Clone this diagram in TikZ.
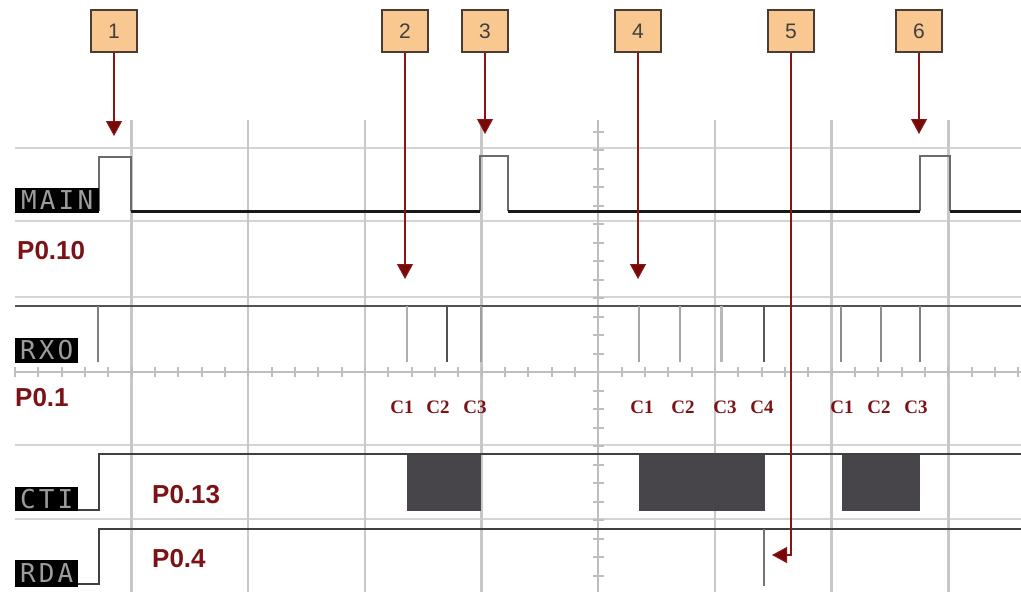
\documentclass[tikz,border=0pt]{standalone}
\usepackage{fontspec}
\setmainfont{Liberation Sans}
\newfontfamily\capfont{Liberation Serif}
\newfontfamily\lcdfont[LetterSpace=12]{DejaVu Sans Mono}
\usetikzlibrary{arrows.meta}

\definecolor{gridc}{HTML}{D4D4D4}
\definecolor{vgridc}{HTML}{C8C8C8}
\definecolor{axisc}{HTML}{BEBEBE}
\definecolor{markfill}{HTML}{F9C891}
\definecolor{markedge}{HTML}{4A3C33}
\definecolor{arrowc}{HTML}{8A1414}
\definecolor{tipc}{HTML}{760808}
\definecolor{pinred}{HTML}{7A1216}
\definecolor{blockc}{HTML}{48454A}
\definecolor{lcdtext}{HTML}{9C9C9C}

\tikzset{
  x=1pt, y=-1pt,
  numbox/.style={draw=markedge, line width=1.3pt, fill=markfill, minimum width=46pt,
    minimum height=42pt, inner sep=0pt, font=\fontsize{21}{24}\selectfont, text=black!75},
  pointer/.style={draw=arrowc, line width=1.2pt,
    -{Triangle[width=16pt,length=15pt,fill=tipc]}},
  hgrid/.style={draw=gridc, line width=1.5pt},
  vgrid/.style={draw=vgridc, line width=2.5pt},
  axisline/.style={draw=axisc, line width=2pt},
  lcd/.style={fill=black, text=lcdtext, inner sep=0pt, anchor=south west,
    font=\lcdfont\fontsize{26}{26}\selectfont},
  pinlabel/.style={text=pinred, inner sep=0pt, anchor=base west,
    font=\bfseries\fontsize{26}{28}\selectfont},
  clabel/.style={text=pinred, inner sep=0pt, anchor=base,
    font=\capfont\bfseries\fontsize{19}{20}\selectfont},
  pulse/.style={draw=black!58, line width=2pt},
  lowline/.style={draw=black!90, line width=3pt},
  level/.style={draw=black!75, line width=2pt},
  spike/.style={line width=1.6pt},
  block/.style={fill=blockc, draw=none},
}

\begin{document}
\begin{tikzpicture}
\useasboundingbox (0,0) rectangle (1021,592);
\fill[white] (0,0) rectangle (1021,592);

% --- grid ---
\foreach \y in {148,221,297,445,519}
  \draw[hgrid] (15,\y) -- (1021,\y);
\foreach \k in {0,1,2,3,5,6,7}
  \draw[vgrid] (131.5+\k*116.7,120) -- (131.5+\k*116.7,592);
% centre axes with minor ticks
\draw[axisline] (15,372) -- (1021,372);
\foreach \i in {-25,...,18}
  \draw[axisline] (598.3+\i*23.333,367) -- ++(0,10);
\draw[axisline] (598.3,120) -- (598.3,592);
\foreach \i in {-13,...,11}
  \draw[axisline] (593,372+\i*18.5) -- ++(11,0);

% --- MAIN ---
\draw[pulse] (99,211) -- (99,157) -- (131,157) -- (131,211);
\draw[pulse] (480,211) -- (480,156) -- (508,156) -- (508,211);
\draw[pulse] (920,211) -- (920,156) -- (950,156) -- (950,211);
\draw[lowline] (131,211) -- (480,211);
\draw[lowline] (508,211) -- (920,211);
\draw[lowline] (950,211) -- (1021,211);
\node[lcd, minimum width=84pt, minimum height=25pt] (lmain) at (15,213) {MAIN};
\node[pinlabel] (p010) at (17,259) {P0.10};

% --- RXO ---
\draw[level, draw=black!68] (15,306) -- (1021,306);
\draw[spike, draw=black!50] (98,306) -- (98,362);
\draw[spike, draw=black!32] (407,306) -- (407,362);
\draw[spike, draw=black!68, line width=2pt] (447,306) -- (447,362);
\draw[spike, draw=black!38, line width=2.5pt] (481,306) -- (481,362);
\draw[spike, draw=black!35] (639,306) -- (639,362);
\draw[spike, draw=black!35] (680,306) -- (680,362);
\draw[spike, draw=black!28, line width=3pt] (721,306) -- (721,362);
\draw[spike, draw=black!65, line width=2pt] (764,306) -- (764,362);
\draw[spike, draw=black!45] (841,306) -- (841,362);
\draw[spike, draw=black!45] (881,306) -- (881,362);
\draw[spike, draw=black!50, line width=2pt] (920,306) -- (920,362);
\node[lcd, minimum width=63pt, minimum height=25pt] (lrxo) at (15,363) {RXO};
\node[pinlabel] (p01) at (15,406) {P0.1};

% capture labels
\node[clabel] (c1a) at (402,413) {C1};
\node[clabel] (c2a) at (438,413) {C2};
\node[clabel] (c3a) at (475,413) {C3};
\node[clabel] (c1b) at (642,413) {C1};
\node[clabel] (c2b) at (683,413) {C2};
\node[clabel] (c3b) at (725,413) {C3};
\node[clabel] (c4b) at (762,413) {C4};
\node[clabel] (c1c) at (842,413) {C1};
\node[clabel] (c2c) at (879,413) {C2};
\node[clabel] (c3c) at (916,413) {C3};

% --- CTI ---
\draw[level] (78,510) -- (99,510) -- (99,454) -- (1021,454);
\fill[block] (407,455) rectangle (481,511);
\fill[block] (639,455) rectangle (765,511);
\fill[block] (842,455) rectangle (920,511);
\node[lcd, minimum width=63pt, minimum height=24pt] (lcti) at (15,511) {CTI};
\node[pinlabel] (p013) at (152,503) {P0.13};

% --- RDA ---
\draw[level] (78,584) -- (99,584) -- (99,529) -- (1021,529);
\draw[level, draw=black!55] (764,529) -- (764,586);
\node[lcd, minimum width=63pt, minimum height=27pt] (lrda) at (15,587) {RDA};
\node[pinlabel] (p04) at (152,567) {P0.4};

% --- event markers ---
\node[numbox] (b1) at (114,31) {1};
\node[numbox] (b2) at (405,31) {2};
\node[numbox] (b3) at (485,31) {3};
\node[numbox] (b4) at (638,31) {4};
\node[numbox] (b5) at (791,31) {5};
\node[numbox] (b6) at (919,31) {6};

\coordinate (t1) at (114,136);
\coordinate (t2) at (405,279);
\coordinate (t3) at (485,134);
\coordinate (t4) at (638,279);
\coordinate (t5) at (772,555);
\coordinate (t6) at (919,134);

\draw[pointer] (b1.south) -- (t1);
\draw[pointer] (b2.south) -- (t2);
\draw[pointer] (b3.south) -- (t3);
\draw[pointer] (b4.south) -- (t4);
\draw[pointer] (b5.south) |- (t5);
\draw[pointer] (b6.south) -- (t6);
\end{tikzpicture}
\end{document}
